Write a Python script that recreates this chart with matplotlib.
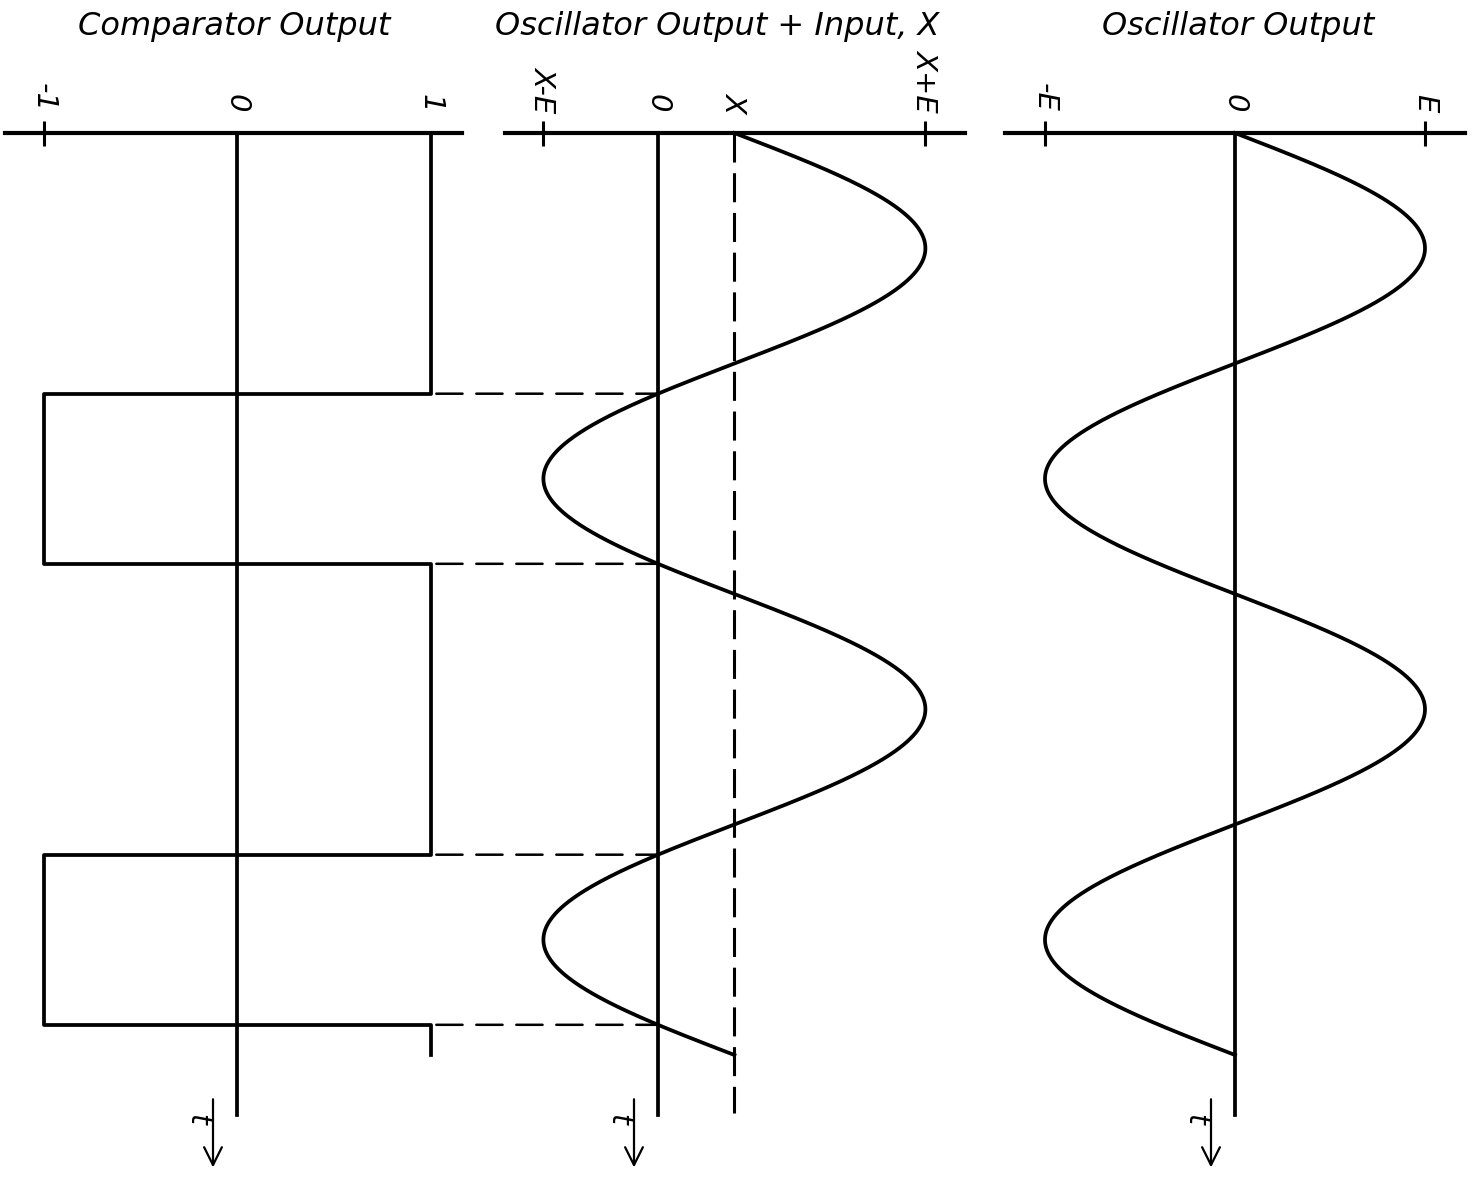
import matplotlib
matplotlib.use("Agg")
import matplotlib.pyplot as plt
import numpy as np
from matplotlib.patches import ConnectionPatch

# signal parameters (one unit of t = one oscillator period)
E = 1.0          # oscillator amplitude
X = 0.4          # input offset
CYCLES = 2
T_END_LINE = 2.13  # how far the zero lines run past the curves

titles = ["Comparator Output", "Oscillator Output + Input, X", "Oscillator Output"]
tick_vals = [[-1, 0, 1], [X - E, 0, X, X + E], [-E, 0, E]]
tick_labels = [["-1", "0", "1"], ["X-E", "0", "X", "X+E"], ["-E", "0", "E"]]
cross_ticks = [[-1], [X - E, X + E], [-E, E]]

t = np.linspace(0, CYCLES, 1201)
osc = E * np.sin(2 * np.pi * t)
osc_in = osc + X

# comparator switching times: osc + X crosses zero
phi = np.arcsin(X / E) / (2 * np.pi)
t_down = np.arange(CYCLES) + 0.5 + phi
t_up = np.arange(CYCLES) + 1.0 - phi
switch_t = np.sort(np.concatenate([t_down, t_up]))

sq_t = [0.0]
sq_v = [1.0]
level = 1.0
for ts in switch_t:
    sq_t += [ts, ts]
    sq_v += [level, -level]
    level = -level
sq_t.append(float(CYCLES))
sq_v.append(level)

# ---- layout (pixels of the 1475 x 1185 canvas) ----
W, H = 1475, 1185
T0_PX, PX_PER_T = 133, 461
# left, right, pixel of value 0, pixels per unit, spine bounds (value units), title centre px
panels = [
    (0, 490, 237, 193.5, (-1.2, 1.165), 234),
    (490, 985, 658, 191.0, (-0.8, 1.607), 717),
    (985, 1475, 1235, 190.0, (-1.21, 1.21), 1238),
]

fig = plt.figure(figsize=(W / 100, H / 100), dpi=100)
axes = []
for i, (L, R, z, s, bounds, tx) in enumerate(panels):
    ax = fig.add_axes([L / W, 0, (R - L) / W, 1])
    ax.set_xlim((L - z) / s, (R - z) / s)
    ax.set_ylim((H - T0_PX) / PX_PER_T, -T0_PX / PX_PER_T)
    for side in ["left", "right", "bottom"]:
        ax.spines[side].set_visible(False)
    ax.spines["top"].set_position(("data", 0))
    ax.spines["top"].set_bounds(*bounds)
    ax.spines["top"].set_linewidth(3)
    ax.set_yticks([])
    ax.xaxis.set_ticks_position("top")
    ax.xaxis.remove_overlapping_locs = False
    ax.set_xticks(tick_vals[i], tick_labels[i], rotation=-90,
                  fontsize=21, fontstyle="italic")
    ax.set_xticks(cross_ticks[i], minor=True)
    ax.tick_params(which="major", length=0, pad=15)
    ax.tick_params(which="minor", direction="inout", length=18, width=2.2,
                   top=True, bottom=False)
    ax.patch.set_alpha(0)

    # zero line and time arrow
    ax.plot([0, 0], [0, T_END_LINE], color="black", lw=2.7)
    ax.annotate("", xy=(-24 / s, 2.25), xytext=(-24 / s, 2.09),
                arrowprops=dict(arrowstyle="->", lw=1.6, color="black",
                                mutation_scale=32))
    ax.text(-40 / s, 2.14, "t", rotation=-90, fontsize=20, fontstyle="italic",
            ha="center", va="center")
    fig.text(tx / W, 1 - 27 / H, titles[i], fontsize=23, fontstyle="italic",
             ha="center", va="center")
    axes.append(ax)

ax1, ax2, ax3 = axes

ax1.plot(sq_v, sq_t, color="black", lw=2.7)

ax2.plot(osc_in, t, color="black", lw=2.7)
ax2.plot([X, X], [0, T_END_LINE - 0.005], color="black", lw=2.2,
         dashes=(9.5, 3.5))

ax3.plot(osc, t, color="black", lw=2.7)

# dashed projections from comparator edges to the zero crossings
for ts in switch_t:
    con = ConnectionPatch(xyA=(1.03, ts), coordsA=ax1.transData,
                          xyB=(0, ts), coordsB=ax2.transData,
                          color="black", lw=1.8, linestyle=(0, (10.5, 5.5)))
    fig.add_artist(con)

plt.savefig("out.png", dpi=100)
